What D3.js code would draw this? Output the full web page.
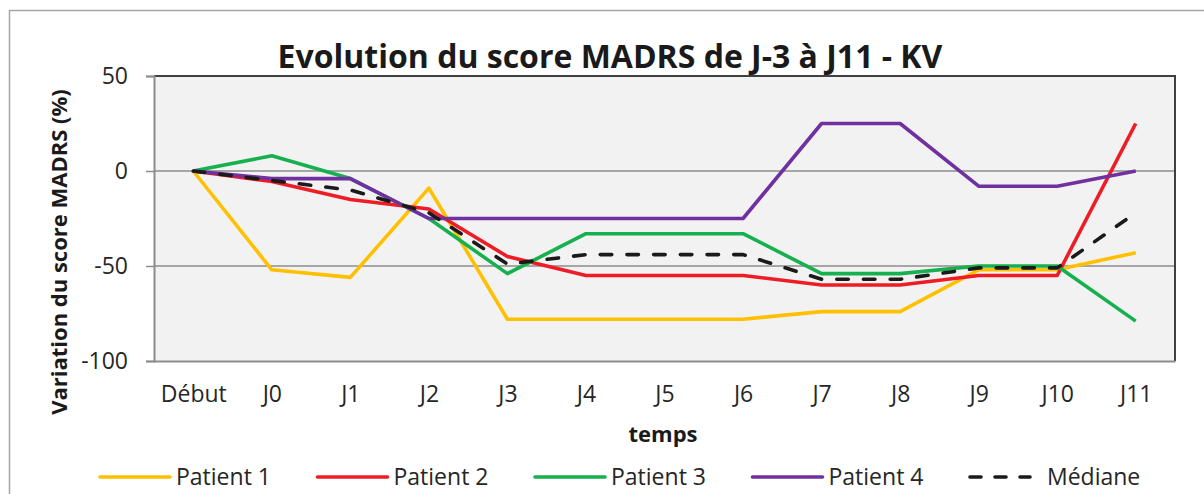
<!DOCTYPE html>
<html>
<head>
<meta charset="utf-8">
<script src="https://cdn.jsdelivr.net/npm/d3@7"></script>
<style>
    body { margin: 0; background: #fff; }
    svg { display: block; font-family: "Open Sans", sans-serif; }
</style>
</head>
<body>
<svg id="chart" width="1204" height="494"></svg>
<script>
// données
const categories = ["Début", "J0", "J1", "J2", "J3", "J4", "J5", "J6", "J7", "J8", "J9", "J10", "J11"];
const patient1 = [0, -52, -56, -9, -78, -78, -78, -78, -74, -74, -52, -52, -43];
const patient2 = [0, -5.5, -15, -20, -45, -55, -55, -55, -60, -60, -55, -55, 25];
const patient3 = [0, 8, -4, -25, -54, -33, -33, -33, -54, -54, -50, -50, -79];
const patient4 = [0, -4, -4, -25, -25, -25, -25, -25, 25, 25, -8, -8, 0];
const mediane = [0, -5, -10, -22, -49, -44, -44, -44, -57, -57, -51, -51, -22];
const yTicks = [50, 0, -50, -100];
const seriesNames = ["Patient 1", "Patient 2", "Patient 3", "Patient 4", "Médiane"];

const series = [
    { name: seriesNames[0], values: patient1, color: "#ffc000", dashed: false },
    { name: seriesNames[1], values: patient2, color: "#ee1c25", dashed: false },
    { name: seriesNames[2], values: patient3, color: "#17b04f", dashed: false },
    { name: seriesNames[3], values: patient4, color: "#7030a0", dashed: false },
    { name: seriesNames[4], values: mediane, color: "#1a1a1a", dashed: true }
];

const svg = d3.select("#chart");
const plot = { left: 154, right: 1175, top: 76, bottom: 361 };

const x = d3.scalePoint().domain(categories).range([plot.left, plot.right]).padding(0.5);
const y = d3.scaleLinear().domain([-100, 50]).range([plot.bottom, plot.top]);

// cadre extérieur
svg.append("path")
    .attr("d", "M9.5,500 L9.5,10.5 L1210,10.5")
    .attr("fill", "none")
    .attr("stroke", "#a6a6a6")
    .attr("stroke-width", 1.5);

// fond de la zone de tracé
svg.append("rect")
    .attr("x", plot.left).attr("y", plot.top)
    .attr("width", plot.right - plot.left).attr("height", plot.bottom - plot.top)
    .attr("fill", "#f2f2f2");

// grille
svg.append("g")
    .selectAll("line")
    .data(yTicks.filter(d => d > -100 && d < 50))
    .join("line")
        .attr("x1", plot.left).attr("x2", plot.right)
        .attr("y1", d => y(d)).attr("y2", d => y(d))
        .attr("stroke", "#8c8c8c")
        .attr("stroke-width", 1.5);

// bordure haute et droite
svg.append("path")
    .attr("d", `M${plot.left},${plot.top} L${plot.right},${plot.top} L${plot.right},${plot.bottom}`)
    .attr("fill", "none")
    .attr("stroke", "#404040")
    .attr("stroke-width", 2);

// axe y
const yAxis = svg.append("g")
    .attr("transform", `translate(${plot.left},0)`)
    .call(d3.axisLeft(y).tickValues(yTicks).tickSize(8).tickPadding(18).tickFormat(d => String(d)));
yAxis.select(".domain").attr("stroke", "#8c8c8c").attr("stroke-width", 2);
yAxis.selectAll(".tick line").attr("stroke", "#8c8c8c").attr("stroke-width", 1.5);
yAxis.selectAll(".tick text")
    .attr("fill", "#262626")
    .style("font-size", "23px")
    .style("font-family", "Open Sans");

// axe x
const xAxis = svg.append("g")
    .attr("transform", `translate(0,${plot.bottom})`)
    .call(d3.axisBottom(x).tickSize(0).tickPadding(25));
xAxis.select(".domain").attr("stroke", "#8c8c8c").attr("stroke-width", 2);
xAxis.selectAll(".tick text")
    .attr("fill", "#262626")
    .style("font-size", "23px")
    .style("font-family", "Open Sans");

// lignes
const line = d3.line()
    .x((d, i) => x(categories[i]))
    .y(d => y(d));

svg.append("g")
    .selectAll("path")
    .data(series)
    .join("path")
        .attr("d", d => line(d.values))
        .attr("fill", "none")
        .attr("stroke", d => d.color)
        .attr("stroke-width", 3.6)
        .attr("stroke-linejoin", "round")
        .attr("stroke-linecap", d => d.dashed ? "round" : "butt")
        .attr("stroke-dasharray", d => d.dashed ? "11.5,15.2" : null);

// titres
svg.append("text")
    .attr("x", 610).attr("y", 68)
    .attr("text-anchor", "middle")
    .attr("fill", "#1a1a1a")
    .style("font-size", "32px")
    .style("font-weight", "bold")
    .text("Evolution du score MADRS de J-3 à J11 - KV");

svg.append("text")
    .attr("transform", "translate(67,252) rotate(-90)")
    .attr("text-anchor", "middle")
    .attr("fill", "#1a1a1a")
    .style("font-size", "22px")
    .style("font-weight", "bold")
    .text("Variation du score MADRS (%)");

svg.append("text")
    .attr("x", 663).attr("y", 442)
    .attr("text-anchor", "middle")
    .attr("fill", "#1a1a1a")
    .style("font-size", "22px")
    .style("font-weight", "bold")
    .text("temps");

// légende
const legend = svg.append("g")
    .attr("transform", "translate(100,477)");

const items = legend.selectAll("g")
    .data(series)
    .join("g")
        .attr("transform", (d, i) => `translate(${i * 217.5},0)`);

items.append("line")
    .attr("x1", 0).attr("x2", d => d.dashed ? 60 : 70)
    .attr("stroke", d => d.color)
    .attr("stroke-width", 3.6)
    .attr("stroke-linecap", "round")
    .attr("stroke-dasharray", d => d.dashed ? "11,14" : null);

items.append("text")
    .attr("x", d => d.dashed ? 77 : 76)
    .attr("y", 8)
    .attr("fill", "#262626")
    .style("font-size", "23px")
    .text(d => d.name);
</script>
</body>
</html>
